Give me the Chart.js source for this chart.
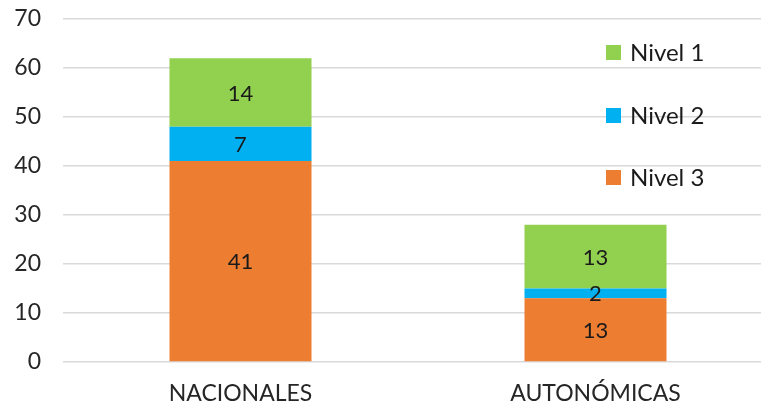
<!DOCTYPE html>
<html>
<head>
<meta charset="utf-8">
<script src="https://cdn.jsdelivr.net/npm/chart.js@4"></script>
<style>
  html, body { margin: 0; padding: 0; background: #fff; overflow: hidden; }
  #wrap { width: 773px; height: 412px; }
</style>
</head>
<body>
<div id="wrap"><canvas id="grafico"></canvas></div>
<script>
const categorias = ['NACIONALES', 'AUTONÓMICAS'];
const nivel3 = [41, 13];
const nivel2 = [7, 2];
const nivel1 = [14, 13];
const ticksY = [0, 10, 20, 30, 40, 50, 60, 70];

const fuente = 'Lato, "Open Sans", sans-serif';

// valeurs au centre de chaque segment
const etiquettes = {
  id: 'etiquettes',
  afterDatasetsDraw(chart) {
    const ctx = chart.ctx;
    ctx.save();
    ctx.font = '22px ' + fuente;
    ctx.fillStyle = '#1a1a1a';
    ctx.textAlign = 'center';
    ctx.textBaseline = 'middle';
    chart.data.datasets.forEach((ds, i) => {
      chart.getDatasetMeta(i).data.forEach((bar, j) => {
        const y = (bar.y + bar.base) / 2;
        ctx.fillText(ds.data[j], bar.x, y + 1);
      });
    });
    ctx.restore();
  }
};

// légende verticale dans la zone du graphique
const legende = {
  id: 'legende',
  afterDraw(chart) {
    const ctx = chart.ctx;
    const lignes = [52, 115, 177];
    const ds = chart.data.datasets.slice().reverse();
    ctx.save();
    ctx.font = '24px ' + fuente;
    ctx.textBaseline = 'middle';
    ds.forEach((d, i) => {
      ctx.fillStyle = d.backgroundColor;
      ctx.fillRect(606, lignes[i] - 7, 15, 15);
      ctx.fillStyle = '#1a1a1a';
      ctx.fillText(d.label, 630, lignes[i] + 1);
    });
    ctx.restore();
  }
};

new Chart(document.getElementById('grafico').getContext('2d'), {
  type: 'bar',
  data: {
    labels: categorias,
    datasets: [
      { label: 'Nivel 3', data: nivel3, backgroundColor: '#ED7D31' },
      { label: 'Nivel 2', data: nivel2, backgroundColor: '#00B0F0' },
      { label: 'Nivel 1', data: nivel1, backgroundColor: '#92D050' }
    ]
  },
  options: {
    responsive: true,
    maintainAspectRatio: false,
    animation: false,
    layout: { padding: { top: 19, right: 0, left: 0, bottom: 0 } },
    datasets: { bar: { barPercentage: 0.4, categoryPercentage: 1 } },
    plugins: { legend: { display: false }, tooltip: { enabled: false } },
    scales: {
      x: {
        stacked: true,
        grid: { display: false },
        border: { display: false },
        ticks: { color: '#262626', font: { family: fuente, size: 23 }, padding: 10 },
        afterFit: s => { s.height = 50; s.paddingLeft = 0; s.paddingRight = 0; }
      },
      y: {
        stacked: true,
        min: 0,
        max: 70,
        afterBuildTicks: s => { s.ticks = ticksY.map(v => ({ value: v })); },
        grid: { color: '#d9d9d9', lineWidth: 1.5, drawTicks: false },
        border: { display: false },
        ticks: { color: '#262626', font: { family: fuente, size: 23 }, padding: 22 },
        afterFit: s => { s.width = 63; s.paddingTop = 0; s.paddingBottom = 0; }
      }
    }
  },
  plugins: [etiquettes, legende]
});
</script>
</body>
</html>
